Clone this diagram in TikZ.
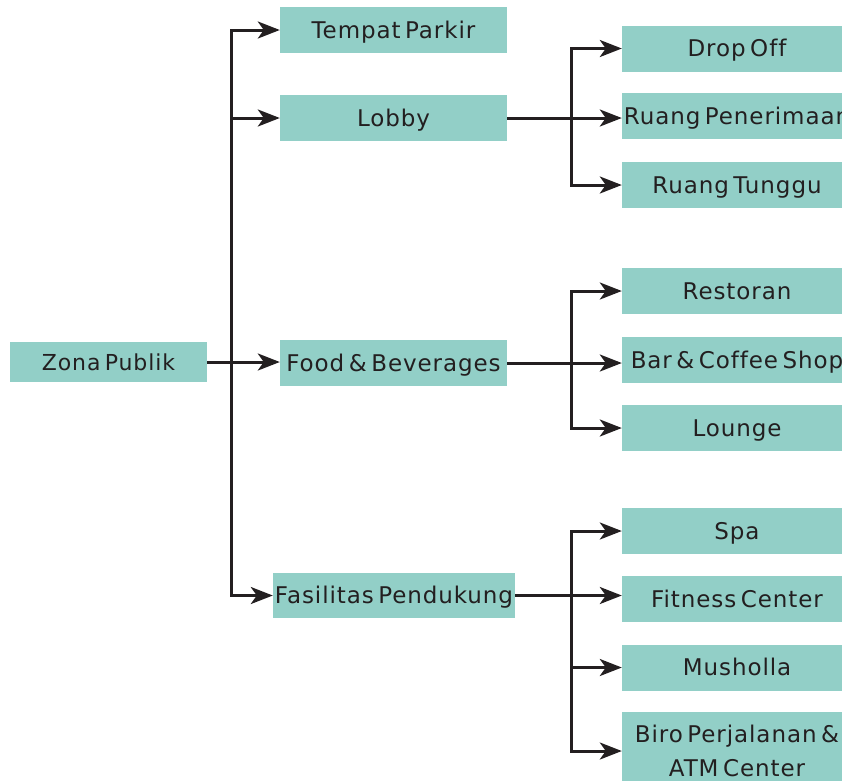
\documentclass[tikz,border=0pt]{standalone}
\usepackage{fontspec}
\setmainfont{DejaVu Sans}[WordSpace=0.55, LetterSpace=4, Ligatures=NoCommon]
\usetikzlibrary{arrows.meta}
\definecolor{boxfill}{HTML}{92CFC7}
\definecolor{ink}{HTML}{231F20}
\begin{document}
\begin{tikzpicture}[x=1pt,y=-1pt,
  box/.style={fill=boxfill, inner sep=0pt, text=ink, font=\fontsize{23}{34}\selectfont,
    align=center, text height=16pt, text depth=0pt},
  midbox/.style={box, minimum width=227pt, minimum height=46pt},
  leafbox/.style={box, minimum width=230pt, minimum height=46pt},
  link/.style={draw=ink, line width=3pt},
  arr/.style={link, -{Stealth[length=22pt,width=17pt,inset=6pt]}}]
\useasboundingbox (0,0) rectangle (842,780);
\clip (0,0) rectangle (842,780);

% root
\node[box, minimum width=197pt, minimum height=40pt, font=\fontsize{22}{34}\selectfont] (zona) at (108.5,362) {Zona Publik};

% second level
\node[midbox] (parkir) at (393.5,30) {Tempat Parkir};
\node[midbox] (lobby)  at (393.5,118) {Lobby};
\node[midbox] (food)   at (393.5,363) {Food \& Beverages};
\node[box, minimum width=242pt, minimum height=45pt] (fasil) at (394,595.5) {Fasilitas Pendukung};

% third level
\node[leafbox] (drop)   at (737,48.5) {Drop Off};
\node[leafbox] (terima) at (737,116)  {Ruang Penerimaan};
\node[leafbox] (tunggu) at (737,185)  {Ruang Tunggu};
\node[leafbox] (resto)  at (737,291)  {Restoran};
\node[leafbox] (bar)    at (737,360)  {Bar \& Coffee Shop};
\node[leafbox] (lounge) at (737,428)  {Lounge};
\node[leafbox] (spa)    at (737,531)  {Spa};
\node[leafbox] (fit)    at (737,599)  {Fitness Center};
\node[leafbox] (mush)   at (737,667.5){Musholla};
\node[leafbox, minimum height=78pt, text height={}, text depth={}] (biro) at (737,751) {Biro Perjalanan \&\\ATM Center};

% branch columns
\coordinate (c1) at (231,0);
\coordinate (c2) at (571,0);

% root to second level
\draw[arr] (zona.east) -- (zona.east -| food.west);
\draw[arr] (zona.east -| c1) |- (parkir.west);
\draw[arr] (zona.east -| c1) |- (lobby.west);
\draw[arr] (zona.east -| c1) |- (fasil.west);

% lobby branch
\draw[arr] (lobby.east) -- (lobby.east -| terima.west);
\draw[arr] (lobby.east -| c2) |- (drop.west);
\draw[arr] (lobby.east -| c2) |- (tunggu.west);

% food branch
\draw[arr] (food.east) -- (food.east -| bar.west);
\draw[arr] (food.east -| c2) |- (resto.west);
\draw[arr] (food.east -| c2) |- (lounge.west);

% support facilities branch
\draw[arr] (fasil.east) -- (fasil.east -| fit.west);
\draw[arr] (fasil.east -| c2) |- (spa.west);
\draw[arr] (fasil.east -| c2) |- (mush.west);
\draw[arr] (fasil.east -| c2) |- (biro.west);
\end{tikzpicture}
\end{document}
